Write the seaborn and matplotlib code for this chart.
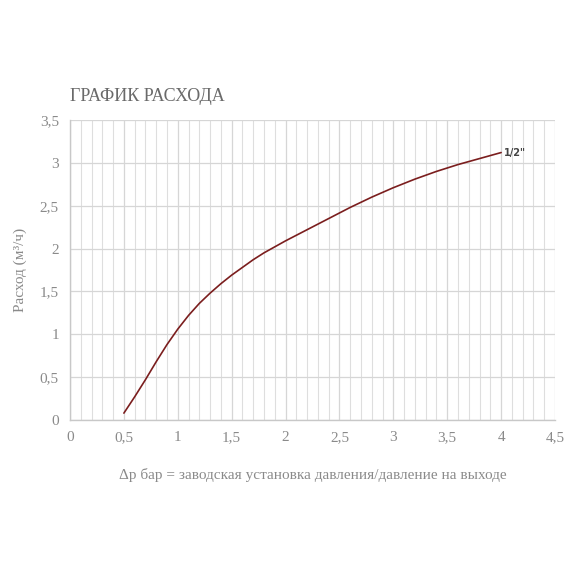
import numpy as np
import pandas as pd
import seaborn as sns
import matplotlib.pyplot as plt
from matplotlib.ticker import MultipleLocator, FuncFormatter

# flow curve
dp = [0.5, 0.6, 0.7, 0.8, 0.9, 1.0, 1.1, 1.2, 1.3, 1.4, 1.5, 1.6, 1.7, 1.8, 1.9,
      2.0, 2.2, 2.4, 2.6, 2.8, 3.0, 3.2, 3.4, 3.6, 3.8, 4.0]
flow = [0.08, 0.27, 0.47, 0.68, 0.88, 1.06, 1.22, 1.36, 1.48, 1.59, 1.69, 1.78, 1.87,
        1.95, 2.02, 2.09, 2.22, 2.35, 2.48, 2.60, 2.71, 2.81, 2.90, 2.98, 3.05, 3.12]
series_label = '1/2"'

df = pd.DataFrame({"dp": dp, "flow": flow})

sns.set_style("white")
plt.rcParams['font.family'] = ['Liberation Serif', 'DejaVu Serif']

fig = plt.figure(figsize=(5.7, 5.7), dpi=100)
ax = fig.add_axes([0.1228, 0.2632, 0.8509, 0.5263])

sns.lineplot(data=df, x="dp", y="flow", ax=ax, color="#7b1e1e", linewidth=1.2)

ax.set_xlim(0, 4.5)
ax.set_ylim(0, 3.5)
ax.xaxis.set_major_locator(MultipleLocator(0.5))
ax.xaxis.set_minor_locator(MultipleLocator(0.1))
ax.yaxis.set_major_locator(MultipleLocator(0.5))
fmt = FuncFormatter(lambda v, p: ('%g' % v).replace('.', ','))
ax.xaxis.set_major_formatter(fmt)
ax.yaxis.set_major_formatter(fmt)

ax.grid(which="major", axis="both", color="#d6d6d6", linewidth=0.9)
ax.grid(which="minor", axis="x", color="#dedede", linewidth=0.8)
ax.set_axisbelow(True)

for s in ["top", "right"]:
    ax.spines[s].set_visible(False)
for s in ["left", "bottom"]:
    ax.spines[s].set_color("#c8c8c8")
    ax.spines[s].set_linewidth(1.0)

ax.tick_params(which="major", length=4, color="#c8c8c8", labelsize=11,
               labelcolor="#8a8a8a", pad=4)
ax.tick_params(which="minor", length=0)

ax.text(dp[-1] + 0.03, flow[-1], series_label, fontsize=7, fontweight="bold",
        color="#444444", family="DejaVu Sans", va="center", ha="left")

ax.set_xlabel("Δр бар = заводская установка давления/давление на выходе",
              fontsize=11, color="#8a8a8a", labelpad=17)
ax.set_ylabel("Расход (м³/ч)", fontsize=11, color="#8a8a8a", labelpad=9)

fig.text(0.1228, 0.815, "ГРАФИК РАСХОДА", fontsize=13, color="#6a6a6a",
         ha="left", va="bottom")

fig.savefig("out.png", dpi=100)
